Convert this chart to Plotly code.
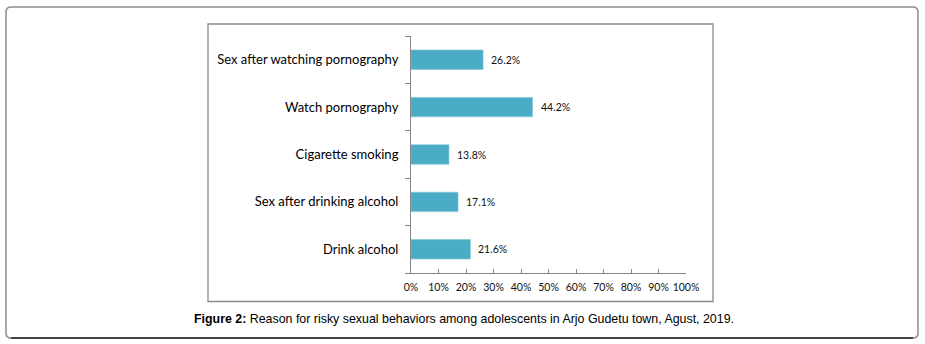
import plotly.graph_objects as go

categories = ["Drink alcohol", "Sex after drinking alcohol", "Cigarette smoking",
              "Watch pornography", "Sex after watching pornography"]
values = [21.6, 17.1, 13.8, 44.2, 26.2]
x_ticks = [0, 10, 20, 30, 40, 50, 60, 70, 80, 90, 100]
x_tick_labels = [f"{t}%" for t in x_ticks]
caption = "<b>Figure 2:</b> Reason for risky sexual behaviors among adolescents in Arjo Gudetu town, Agust, 2019."

W, H = 925, 344
L, R, T, B = 411, 686, 36, 273  # plot area in pixels
PW, PH = R - L, B - T


def px(x):
    return (x - L) / PW


def py(y):
    return (B - y) / PH


fig = go.Figure()
fig.add_trace(go.Bar(
    x=values, y=categories, orientation="h",
    marker=dict(color="#4bacc6", line=dict(color="#7fc6d8", width=0.6)),
    hoverinfo="x+y",
))

for c, v in zip(categories, values):
    fig.add_annotation(x=v, y=c, xref="x", yref="y", text=f"{v}%", showarrow=False,
                       xanchor="left", xshift=6,
                       font=dict(family="Lato", size=10.5, color="#111111"))

fig.add_annotation(x=px(463.5), y=py(319), xref="paper", yref="paper", text=caption,
                   showarrow=False, xanchor="center", yanchor="middle",
                   font=dict(family="Liberation Sans, Arial", size=12.4, color="#000000"))

# inner chart frame
fig.add_shape(type="rect", xref="paper", yref="paper",
              x0=px(208), x1=px(713), y0=py(301.5), y1=py(24),
              line=dict(color="#8a8a8a", width=1.3), layer="below")

# outer rounded frame
x0, x1, y0, y1 = px(6), px(918), py(338), py(7)
r = 5
rx, ry = r / PW, r / PH
path = (f"M {x0+rx},{y1} L {x1-rx},{y1} Q {x1},{y1} {x1},{y1-ry} "
        f"L {x1},{y0+ry} Q {x1},{y0} {x1-rx},{y0} "
        f"L {x0+rx},{y0} Q {x0},{y0} {x0},{y0+ry} "
        f"L {x0},{y1-ry} Q {x0},{y1} {x0+rx},{y1} Z")
fig.add_shape(type="path", xref="paper", yref="paper", path=path,
              line=dict(color="#8c8c8c", width=1.5), layer="below")
fig.add_shape(type="line", xref="paper", yref="paper",
              x0=x0 + rx, x1=x1 - rx, y0=y0, y1=y0,
              line=dict(color="#222222", width=1.6), layer="below")

fig.update_layout(
    width=W, height=H,
    margin=dict(l=L, r=W - R, t=T, b=H - B, pad=0),
    paper_bgcolor="white", plot_bgcolor="white",
    showlegend=False, bargap=0.59,
    xaxis=dict(range=[0, 100], tickmode="array", tickvals=x_ticks, ticktext=x_tick_labels,
               showgrid=False, zeroline=False,
               showline=True, linecolor="#868686", linewidth=1,
               ticks="inside", ticklen=4, tickcolor="#868686",
               ticklabelstandoff=4,
               tickfont=dict(family="Lato", size=10.5, color="#111111"),
               fixedrange=True),
    yaxis=dict(type="category", categoryorder="array", categoryarray=categories,
               range=[-0.5, 4.5],
               showgrid=False, zeroline=False,
               showline=True, linecolor="#868686", linewidth=1,
               ticks="outside", tickson="boundaries", ticklen=5, tickcolor="#868686",
               ticklabelstandoff=9,
               tickfont=dict(family="Lato", size=13, color="#000000"),
               fixedrange=True),
)

fig.write_html("out.html", config={"displayModeBar": False},
               post_script="document.body.style.margin='0';document.body.style.padding='0';")
